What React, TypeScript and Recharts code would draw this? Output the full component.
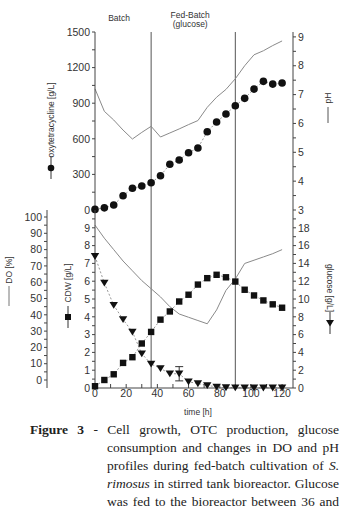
import React from "react";
import {
  ComposedChart,
  Line,
  XAxis,
  YAxis,
  ReferenceLine,
  ReferenceArea,
  ErrorBar,
} from "recharts";

// sampling times [h]
const hours = [0, 6, 12, 18, 24, 30, 36, 42, 48, 54, 60, 66, 72, 78, 84, 90, 96, 102, 108, 114, 120];

// top panel
const oxytetracycline = [5, 18, 42, 120, 183, 202, 230, 289, 385, 421, 483, 522, 660, 741, 809, 879, 941, 1019, 1084, 1061, 1070];
const pH = [7.2, 6.42, 6.12, 5.77, 5.46, 5.69, 5.9, 5.53, 5.67, 5.81, 5.96, 6.1, 6.56, 6.91, 7.18, 7.55, 8.0, 8.38, 8.52, 8.7, 8.86];

// bottom panel
const cdw = [0.1, 0.45, 0.77, 1.41, 1.73, 2.5, 3.15, 3.84, 4.3, 4.86, 5.24, 5.81, 6.17, 6.36, 6.22, 5.98, 5.52, 5.2, 4.92, 4.7, 4.51];
const glucose = [14.8, 11.8, 9.3, 7.7, 6.3, 3.85, 2.7, 2.2, 1.6, 1.6, 0.7, 0.5, 0.3, 0.12, 0.05, 0.03, 0.02, 0.02, 0.02, 0.02, 0.02];
const glucoseErr = [null, null, null, null, null, null, null, null, null, 0.8, null, null, null, null, null, null, null, null, null, null, null];
const dissolvedO2 = [95, 87, 80, 73, 67, 61, 56, 51, 45, 40.5, 38.5, 36.5, 34.5, 43, 55, 62, 71.5, 73.5, 75.5, 77.5, 80];

// phase boundaries [h]
const feedStart = 36;
const feedEnd = 90;

// ticks
const timeTicks = [0, 10, 20, 30, 40, 50, 60, 70, 80, 90, 100, 110, 120];
const otcTicks = [0, 150, 300, 450, 600, 750, 900, 1050, 1200, 1350, 1500];
const phTicks = [3, 3.5, 4, 4.5, 5, 5.5, 6, 6.5, 7, 7.5, 8, 8.5, 9];
const cdwTicks = [0, 0.5, 1, 1.5, 2, 2.5, 3, 3.5, 4, 4.5, 5, 5.5, 6, 6.5, 7, 7.5, 8, 8.5, 9, 9.5];
const glucoseTicks = [0, 1, 2, 3, 4, 5, 6, 7, 8, 9, 10, 11, 12, 13, 14, 15, 16, 17, 18, 19];
const doTicks = [0, 5, 10, 15, 20, 25, 30, 35, 40, 45, 50, 55, 60, 65, 70, 75, 80, 85, 90, 95, 100];

const data = hours.map((t, i) => ({
  t,
  otc: oxytetracycline[i],
  ph: pH[i],
  cdw: cdw[i],
  glc: glucose[i],
  glcErr: glucoseErr[i],
  do: dissolvedO2[i],
}));

const SANS = "'Liberation Sans', Arial, sans-serif";
const INK = "#222";
const AXIS = "#444";
const TRACE = "#8a8a8a";

const tickStyle = { fontSize: 10.5, fill: "#333", fontFamily: SANS };
const every = (step: number) => (v: number) => (Math.abs(v / step - Math.round(v / step)) < 1e-6 ? String(v) : "");
const blank = () => "";

const CircleDot = (p: any) =>
  p.cx == null ? null : <circle key={p.key ?? p.index} cx={p.cx} cy={p.cy} r={3.8} fill="#111" />;

const SquareDot = (p: any) =>
  p.cx == null ? null : <rect key={p.key ?? p.index} x={p.cx - 3.2} y={p.cy - 3.2} width={6.4} height={6.4} fill="#111" />;

const TriangleDot = (p: any) =>
  p.cx == null ? null : (
    <path key={p.key ?? p.index} d={`M${p.cx - 4.2},${p.cy - 3.2} L${p.cx + 4.2},${p.cy - 3.2} L${p.cx},${p.cy + 3.6} Z`} fill="#111" />
  );

function VText({ x, y, angle, children }: { x: number; y: number; angle: number; children: React.ReactNode }) {
  return (
    <text
      x={x}
      y={y}
      transform={`rotate(${angle} ${x} ${y})`}
      textAnchor="middle"
      dominantBaseline="central"
      fontSize={8.5}
      fill="#333"
      fontFamily={SANS}
    >
      {children}
    </text>
  );
}

const OtcLabel = ({ viewBox }: any) => {
  const x = viewBox.x + 51;
  const m = viewBox.y + 136;
  return (
    <g>
      <VText x={x} y={viewBox.y + 88} angle={-90}>oxytetracycline [g/L]</VText>
      <line x1={x} x2={x} y1={m - 11} y2={m + 11} stroke="#333" />
      <circle cx={x} cy={m} r={3.3} fill="#111" />
    </g>
  );
};

const PhLabel = ({ viewBox }: any) => {
  const x = viewBox.x + 35;
  return (
    <g>
      <VText x={x} y={viewBox.y + 66} angle={-90}>pH</VText>
      <line x1={x} x2={x} y1={viewBox.y + 75} y2={viewBox.y + 91} stroke="#555" />
    </g>
  );
};

const DoLabel = ({ viewBox }: any) => {
  const x = viewBox.x + 9;
  return (
    <g>
      <VText x={x} y={viewBox.y + 60} angle={-90}>DO [%]</VText>
      <line x1={x} x2={x} y1={viewBox.y + 76} y2={viewBox.y + 96} stroke="#777" />
    </g>
  );
};

const CdwLabel = ({ viewBox }: any) => {
  const x = viewBox.x + 21;
  const m = viewBox.y + 107;
  return (
    <g>
      <VText x={x} y={viewBox.y + 73} angle={-90}>CDW [g/L]</VText>
      <line x1={x} x2={x} y1={m - 11} y2={m + 11} stroke="#333" />
      <rect x={x - 3} y={m - 3} width={6} height={6} fill="#111" />
    </g>
  );
};

const GlucoseLabel = ({ viewBox }: any) => {
  const x = viewBox.x + 37;
  const m = viewBox.y + 113;
  return (
    <g>
      <VText x={x} y={viewBox.y + 78} angle={90}>glucose [g/L]</VText>
      <line x1={x} x2={x} y1={m - 11} y2={m + 11} stroke="#333" />
      <path d={`M${x - 4},${m - 3} L${x + 4},${m - 3} L${x},${m + 3.5} Z`} fill="#111" />
    </g>
  );
};

const TimeLabel = ({ viewBox }: any) => (
  <text
    x={viewBox.x + viewBox.width / 2 + 4}
    y={viewBox.y + 24}
    textAnchor="middle"
    dominantBaseline="central"
    fontSize={8.5}
    fill="#333"
    fontFamily={SANS}
  >
    time [h]
  </text>
);

const BatchLabel = ({ viewBox }: any) => (
  <text x={viewBox.x + viewBox.width / 2 - 4} y={viewBox.y - 14} textAnchor="middle" dominantBaseline="central" fontSize={8.5} fill="#333" fontFamily={SANS}>
    Batch
  </text>
);

const FedLabel = ({ viewBox }: any) => {
  const x = viewBox.x + viewBox.width / 2 - 3;
  return (
    <g>
      <text x={x} y={viewBox.y - 17} textAnchor="middle" dominantBaseline="central" fontSize={8.5} fill="#333" fontFamily={SANS}>
        Fed-Batch
      </text>
      <text x={x} y={viewBox.y - 8} textAnchor="middle" dominantBaseline="central" fontSize={8.5} fill="#333" fontFamily={SANS}>
        (glucose)
      </text>
    </g>
  );
};

const xDomain: [number, number] = [0, 127];

function TopPanel() {
  return (
    <ComposedChart width={340} height={216} data={data} margin={{ top: 32, right: 0, bottom: 6, left: 0 }}>
      <XAxis xAxisId="b" dataKey="t" type="number" domain={xDomain} ticks={timeTicks} interval={0} height={0}
        mirror tickSize={3} tickFormatter={blank} axisLine={{ stroke: AXIS }} tickLine={{ stroke: AXIS }} />
      <XAxis xAxisId="top" orientation="top" dataKey="t" type="number" domain={xDomain} ticks={timeTicks} interval={0}
        height={0} mirror tickSize={3} tickFormatter={blank} axisLine={{ stroke: AXIS }} tickLine={{ stroke: AXIS }} />
      <YAxis yAxisId="otc" orientation="left" width={95} domain={[0, 1500]} ticks={otcTicks} interval={0}
        tickFormatter={every(300)} tick={tickStyle} tickSize={3} tickMargin={2}
        axisLine={{ stroke: AXIS }} tickLine={{ stroke: AXIS }} label={OtcLabel} />
      <YAxis yAxisId="ph" orientation="right" width={47} domain={[3, 9.17]} ticks={phTicks} interval={0}
        tickFormatter={every(1)} tick={tickStyle} tickSize={3} tickMargin={2}
        axisLine={{ stroke: AXIS }} tickLine={{ stroke: AXIS }} label={PhLabel} />
      <ReferenceArea xAxisId="b" yAxisId="otc" x1={0} x2={feedStart} fill="none" stroke="none" label={BatchLabel} />
      <ReferenceArea xAxisId="b" yAxisId="otc" x1={feedStart} x2={feedEnd} fill="none" stroke="none" label={FedLabel} />
      <ReferenceLine xAxisId="b" yAxisId="otc" x={feedStart} stroke="#555" />
      <ReferenceLine xAxisId="b" yAxisId="otc" x={feedEnd} stroke="#555" />
      <Line xAxisId="b" yAxisId="ph" dataKey="ph" type="linear" stroke={TRACE} strokeWidth={1} dot={false} isAnimationActive={false} />
      <Line xAxisId="b" yAxisId="otc" dataKey="otc" type="linear" stroke="#999" strokeWidth={1} strokeDasharray="2 2"
        dot={CircleDot} activeDot={false} isAnimationActive={false} />
    </ComposedChart>
  );
}

function BottomPanel() {
  return (
    <ComposedChart width={340} height={218} data={data} margin={{ top: 10, right: 0, bottom: 0, left: 0 }}>
      <XAxis xAxisId="b" dataKey="t" type="number" domain={xDomain} ticks={timeTicks} interval={0} height={30}
        tickSize={-4} tickMargin={6} tickFormatter={every(20)} tick={tickStyle}
        axisLine={{ stroke: AXIS }} tickLine={{ stroke: AXIS }} label={TimeLabel} />
      <XAxis xAxisId="top" orientation="top" dataKey="t" type="number" domain={xDomain} ticks={timeTicks} interval={0}
        height={0} mirror tickSize={3} tickFormatter={blank} axisLine={{ stroke: AXIS }} tickLine={{ stroke: AXIS }} />
      <YAxis yAxisId="cdw" orientation="left" width={48} domain={[0, 10]} ticks={cdwTicks} interval={0}
        tickFormatter={every(1)} tick={tickStyle} tickSize={3} tickMargin={2}
        axisLine={{ stroke: AXIS }} tickLine={{ stroke: AXIS }} label={CdwLabel} />
      <YAxis yAxisId="do" orientation="left" width={47} domain={[-4.9, 104.3]} ticks={doTicks} interval={0}
        tickFormatter={every(10)} tick={tickStyle} tickSize={3} tickMargin={2}
        axisLine={{ stroke: AXIS }} tickLine={{ stroke: AXIS }} label={DoLabel} />
      <YAxis yAxisId="glc" orientation="right" width={47} domain={[0, 20]} ticks={glucoseTicks} interval={0}
        tickFormatter={every(2)} tick={tickStyle} tickSize={3} tickMargin={2}
        axisLine={{ stroke: AXIS }} tickLine={{ stroke: AXIS }} label={GlucoseLabel} />
      <ReferenceLine xAxisId="b" yAxisId="cdw" x={feedStart} stroke="#555" />
      <ReferenceLine xAxisId="b" yAxisId="cdw" x={feedEnd} stroke="#555" />
      <Line xAxisId="b" yAxisId="do" dataKey="do" type="linear" stroke={TRACE} strokeWidth={1} dot={false} isAnimationActive={false} />
      <Line xAxisId="b" yAxisId="glc" dataKey="glc" type="linear" stroke="#999" strokeWidth={1} strokeDasharray="2 2"
        dot={TriangleDot} activeDot={false} isAnimationActive={false}>
        <ErrorBar dataKey="glcErr" direction="y" width={4} stroke="#333" strokeWidth={1} />
      </Line>
      <Line xAxisId="b" yAxisId="cdw" dataKey="cdw" type="linear" stroke="#999" strokeWidth={1} strokeDasharray="2 2"
        dot={SquareDot} activeDot={false} isAnimationActive={false} />
    </ComposedChart>
  );
}

export default function App() {
  return (
    <div style={{ position: "absolute", left: 0, top: 0, width: 340, height: 511, overflow: "hidden", background: "#fff" }}>
      <div style={{ position: "absolute", left: 0, top: 0 }}>
        <TopPanel />
      </div>
      <div style={{ position: "absolute", left: 0, top: 200 }}>
        <BottomPanel />
      </div>
      <p
        style={{
          position: "absolute",
          left: 30,
          top: 421,
          width: 309,
          margin: 0,
          paddingLeft: 77,
          textIndent: -77,
          boxSizing: "border-box",
          fontFamily: "'Liberation Serif', 'Times New Roman', serif",
          fontSize: 13.5,
          lineHeight: "18px",
          textAlign: "justify",
          textAlignLast: "justify",
          color: INK,
        }}
      >
        <b>Figure 3</b> - Cell growth, OTC production, glucose consumption and changes in DO and pH profiles during
        fed-batch cultivation of <i>S. rimosus</i> in stirred tank bioreactor. Glucose was fed to the bioreactor
        between 36 and
      </p>
    </div>
  );
}
